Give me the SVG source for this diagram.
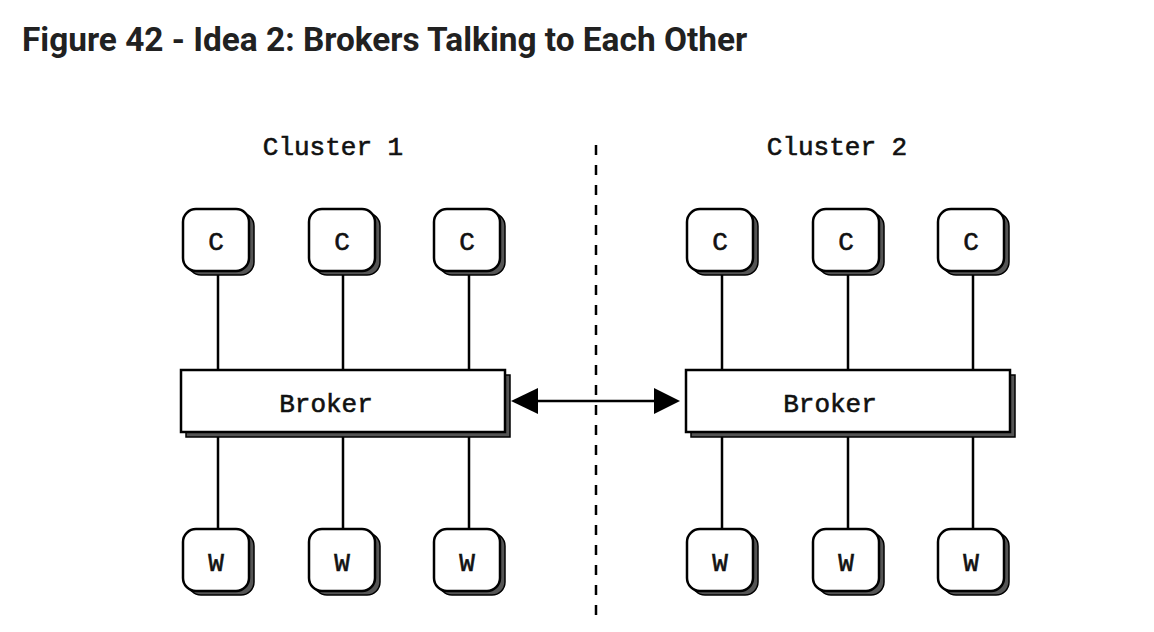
<svg xmlns="http://www.w3.org/2000/svg" width="1154" height="632" viewBox="0 0 1154 632">
<style>
.title{font-family:Roboto,"Liberation Sans",sans-serif;font-weight:bold;font-size:33.4px;fill:#212121}
.lbl{font-family:"Liberation Mono","DejaVu Sans Mono",monospace;font-size:26px;fill:#111;stroke:#111;stroke-width:0.6;text-anchor:middle}
.sh{fill:#555;stroke:#000;stroke-width:1.5}
.bx{fill:#fff;stroke:#000;stroke-width:2.5}
.ln{stroke:#000;stroke-width:2.5;fill:none}
</style>
<defs>
<g id="small">
<rect class="sh" x="-28" y="-27" width="66" height="62" rx="13"/>
<rect class="bx" x="-33" y="-31" width="66" height="62" rx="13"/>
</g>
<g id="broker">
<rect class="sh" x="5" y="5" width="324" height="62"/>
<rect class="bx" x="0" y="0" width="324" height="62"/>
</g>
</defs>
<rect width="1154" height="632" fill="#fff"/>
<text class="title" x="22" y="51">Figure 42 - Idea 2: Brokers Talking to Each Other</text>
<text class="lbl" x="333" y="155">Cluster 1</text>
<text class="lbl" x="837" y="155">Cluster 2</text>
<g id="connectors">
<line class="ln" x1="596" y1="145" x2="596" y2="615" stroke-dasharray="10 10" stroke-width="3"/>
<path class="ln" d="M218 271V370M343 271V370M469 271V370M218 432V529M343 432V529M469 432V529"/>
<path class="ln" d="M722 271V370M848 271V370M973 271V370M722 432V529M848 432V529M973 432V529"/>
<line class="ln" x1="530" y1="401" x2="662" y2="401"/>
<polygon points="511,401 538,388 538,414" fill="#000"/>
<polygon points="680,401 654,388 654,414" fill="#000"/>
</g>
<g id="broker1"><use href="#broker" x="181" y="370"/><text class="lbl" x="326" y="412">Broker</text></g>
<g id="broker2"><use href="#broker" x="686" y="370"/><text class="lbl" x="830" y="412">Broker</text></g>
<g id="c1"><use href="#small" x="216" y="240"/><text class="lbl" x="216" y="250">C</text></g>
<g id="c2"><use href="#small" x="342" y="240"/><text class="lbl" x="342" y="250">C</text></g>
<g id="c3"><use href="#small" x="467" y="240"/><text class="lbl" x="467" y="250">C</text></g>
<g id="c4"><use href="#small" x="720" y="240"/><text class="lbl" x="720" y="250">C</text></g>
<g id="c5"><use href="#small" x="846" y="240"/><text class="lbl" x="846" y="250">C</text></g>
<g id="c6"><use href="#small" x="971" y="240"/><text class="lbl" x="971" y="250">C</text></g>
<g id="w1"><use href="#small" x="216" y="560"/><text class="lbl" x="216" y="571">W</text></g>
<g id="w2"><use href="#small" x="342" y="560"/><text class="lbl" x="342" y="571">W</text></g>
<g id="w3"><use href="#small" x="467" y="560"/><text class="lbl" x="467" y="571">W</text></g>
<g id="w4"><use href="#small" x="720" y="560"/><text class="lbl" x="720" y="571">W</text></g>
<g id="w5"><use href="#small" x="846" y="560"/><text class="lbl" x="846" y="571">W</text></g>
<g id="w6"><use href="#small" x="971" y="560"/><text class="lbl" x="971" y="571">W</text></g>
</svg>
